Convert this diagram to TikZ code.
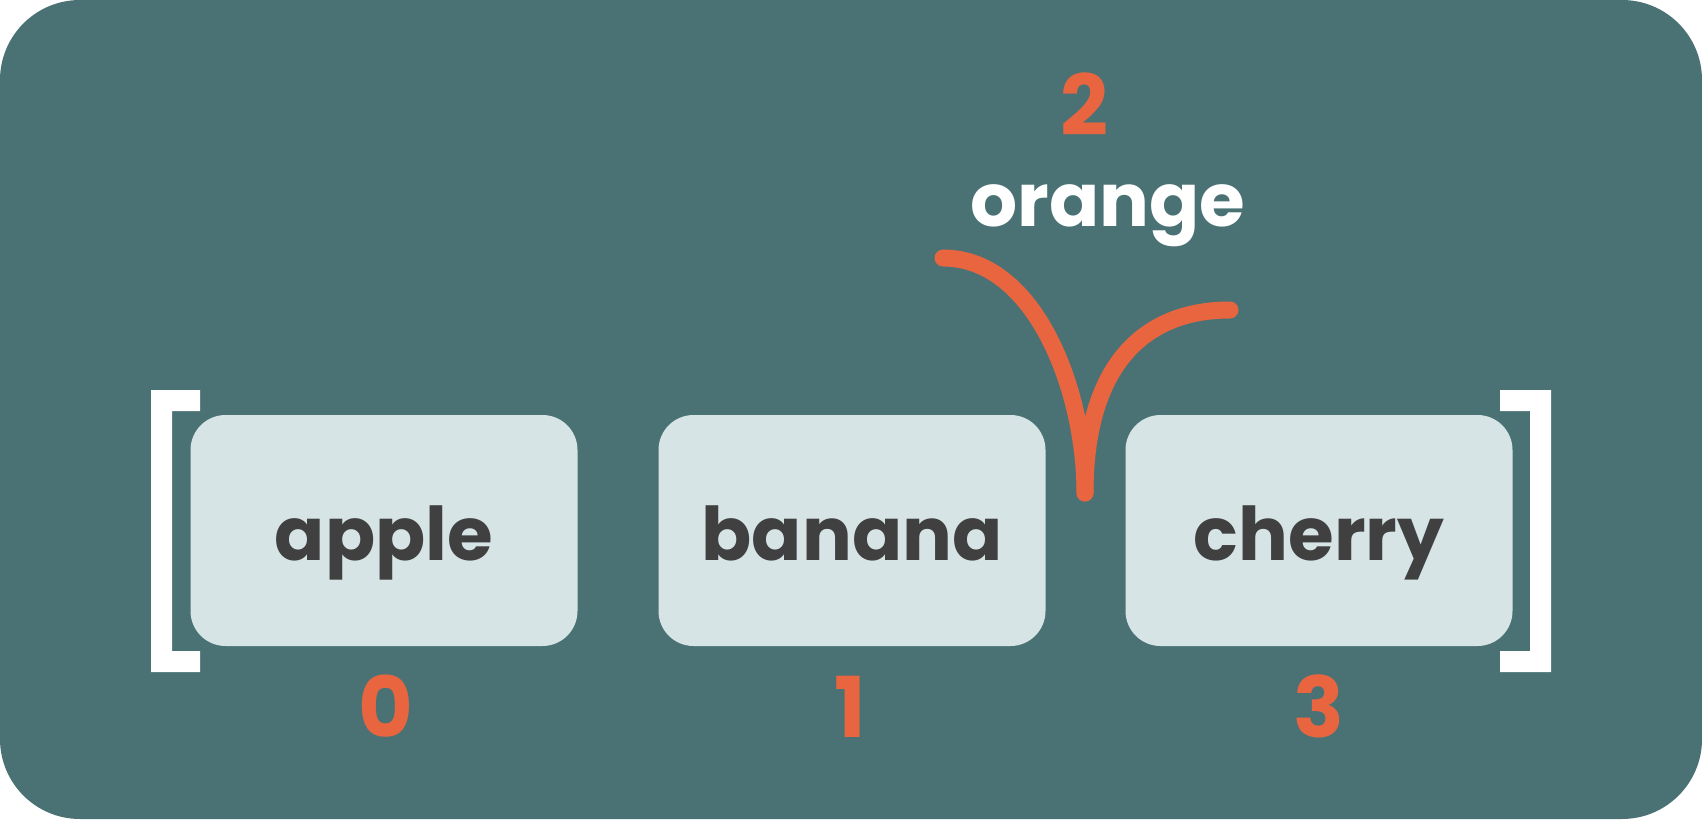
\documentclass[tikz,border=0pt]{standalone}
\usepackage{fontspec}
\setmainfont{Poppins}
\usetikzlibrary{positioning}
\definecolor{slate}{HTML}{4A7274}
\definecolor{mist}{HTML}{D6E4E5}
\definecolor{ink}{HTML}{404040}
\definecolor{coral}{HTML}{E8653F}

\begin{document}
\begin{tikzpicture}[x=1pt,y=-1pt,
  item/.style={fill=mist,rounded corners=35pt,inner sep=0pt,minimum width=387pt,
    text height=145pt,text depth=86pt,align=center,text=ink,
    font=\fontsize{74}{90}\selectfont\bfseries},
  index/.style={text=coral,inner sep=0pt,font=\fontsize{84}{90}\selectfont\bfseries},
  insertion/.style={draw=coral,line width=17pt,line cap=round}]
  \useasboundingbox (0,0) rectangle (1702,819);
  \fill[white] (0,0) rectangle (1702,819);
  \fill[slate,rounded corners=80pt] (0,0) rectangle (1702,819);
  % brackets
  \fill[white] (200,390) -- (151,390) -- (151,672) -- (200,672) -- (200,651)
    -- (172,651) -- (172,411) -- (200,411) -- cycle;
  \fill[white] (1500,390) -- (1551,390) -- (1551,672) -- (1500,672) -- (1500,651)
    -- (1530,651) -- (1530,411) -- (1500,411) -- cycle;
  % list items
  \node[item,anchor=base] (apple) at (384,560) {apple};
  \node[item,anchor=base] (banana) at (852,560) {banana};
  \node[item,anchor=base] (cherry) at (1319,560) {cherry};
  \node[index,anchor=base] (i0) at (386,737) {0};
  \node[index,anchor=base] (i1) at (850,737) {1};
  \node[index,anchor=base] (i3) at (1319,737) {3};
  % new item
  \node[index,anchor=base] (i2) at (1084,135) {2};
  \node[text=white,inner sep=0pt,anchor=base,font=\fontsize{74}{90}\selectfont\bfseries]
    (orange) at (1108,226) {orange};
  \coordinate (tl) at (943,258);
  \coordinate (tr) at (1230,310);
  \coordinate (stem) at (1085,493);
  \draw[insertion] (tl) .. controls (1035,258) and (1085,390) .. (stem);
  \draw[insertion] (tr) .. controls (1140,310) and (1085,370) .. (stem);
\end{tikzpicture}
\end{document}
